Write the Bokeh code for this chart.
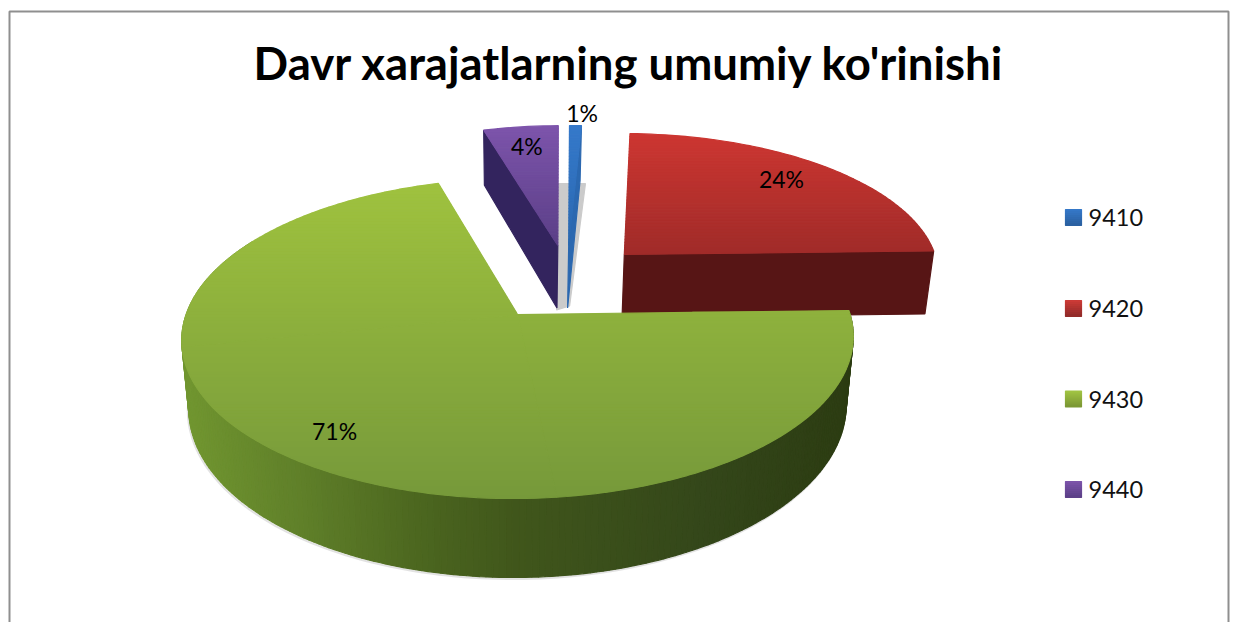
import numpy as np
from bokeh.plotting import figure
from bokeh.models import Range1d, ColumnDataSource
from bokeh.core.properties import value
from bokeh.embed import file_html
from bokeh.resources import INLINE

# ---- data
categories = ["9410", "9420", "9430", "9440"]
shares = [0.7, 24.1, 70.8, 4.4]
title = "Davr xarajatlarning umumiy ko'rinishi"

# ---- style
FONT = "Lato"
W, H = 1237, 622
CX, CY = 517.0, 314.0      # pivot on the page
CY2 = 381.0                # pivot of the lower face
A, B, P = 332.0, 156.5, 0.1495
A2, B2 = 325.0, 166.7
TILT = -0.006
offsets = [(0.165, 0.47), (0.341, 0.402), (0.0, 0.0), (0.13, 0.47)]
radii = [1.0, 0.99, 1.0, 1.0]
stretch = [1.0, 1.0, 1.0, 1.0]
lean = [0.026, 0.025, 0.0, 0.02]
label_r = [1.12, 0.83, 0.83, 0.82]
label_du = [0.022, -0.04, 0.0, 0.0]
top_cols = [("#3579ca", "#2a68b0"), ("#cd3631", "#a02b29"), ("#9fc23f", "#76993a"), ("#7d54ab", "#5b3f87")]
key_cols = [("#3579ca", "#2a5f9f"), ("#cf3b37", "#8f2a28"), ("#a3c644", "#7a9633"), ("#7d54ab", "#5b3f87")]
side_cols = ["#2b68b0", "#571515", None, "#33245e"]
wall_stops = [(181, "#719630"), (300, "#5f7f29"), (420, "#4b661f"), (517, "#40561b"), (700, "#34471a"), (853, "#2c3c12")]


def hex2rgb(c):
    return np.array([int(c[i:i + 2], 16) for i in (1, 3, 5)], float)


def mix(c0, c1, t):
    t = min(max(t, 0.0), 1.0)
    rgb = hex2rgb(c0) * (1 - t) + hex2rgb(c1) * t
    return "#%02x%02x%02x" % tuple(int(round(v)) for v in rgb)


def top(u, v):
    u, v = np.asarray(u, float), np.asarray(v, float)
    w = 1 + P * v
    return CX + A * u / w, CY - B * v / w + TILT * (A * u / w)


def low(u, v):
    u, v = np.asarray(u, float), np.asarray(v, float)
    w = 1 + P * v
    return CX + A2 * u / w, CY2 - B2 * v / w + TILT * (A2 * u / w)


def clip_band(pts, y0, y1):
    def clip(poly, keep, cross):
        out = []
        for i in range(len(poly)):
            a, b = poly[i], poly[(i + 1) % len(poly)]
            if keep(a):
                out.append(a)
            if keep(a) != keep(b):
                t = (cross - a[1]) / (b[1] - a[1])
                out.append((a[0] + t * (b[0] - a[0]), cross))
        return out
    poly = clip(pts, lambda q: q[1] >= y0, y0)
    if poly:
        poly = clip(poly, lambda q: q[1] <= y1, y1)
    return poly


xs_all, ys_all, cs_all = [], [], []


def flush(p):
    global xs_all, ys_all, cs_all
    if xs_all:
        src = ColumnDataSource(dict(xs=xs_all, ys=ys_all, c=cs_all))
        p.patches("xs", "ys", source=src, fill_color="c", line_color="c", line_width=1.2)
    xs_all, ys_all, cs_all = [], [], []


def add(xs, ys, c):
    xs_all.append([float(x) for x in xs])
    ys_all.append([float(y) for y in ys])
    cs_all.append(c)


def gradient_poly(xs, ys, c0, c1, step=3.0, yr=None):
    pts = list(zip(xs, ys))
    y0, y1 = yr if yr else (min(ys), max(ys))
    n = max(int((y1 - y0) / step), 1)
    for i in range(n):
        a = y0 + (y1 - y0) * i / n
        b = y0 + (y1 - y0) * (i + 1) / n
        poly = clip_band(pts, a, b)
        if len(poly) >= 3:
            add([q[0] for q in poly], [q[1] for q in poly], mix(c0, c1, (i + .5) / n))


def wall_color(x):
    for (x0, c0), (x1, c1) in zip(wall_stops[:-1], wall_stops[1:]):
        if x <= x1:
            return mix(c0, c1, (x - x0) / (x1 - x0))
    return wall_stops[-1][1]


p = figure(width=W, height=H, x_range=Range1d(0, W), y_range=Range1d(H, 0),
           output_backend="svg", toolbar_location=None, min_border=0)
p.axis.visible = False
p.grid.visible = False
p.outline_line_color = None
p.background_fill_color = "white"

# chart frame
p.line([9, 9, 1228, 1228], [H, 11, 11, H], line_color="#8f8f8f", line_width=2)

# angles from the values
fracs = np.array(shares) / sum(shares)
ends = np.cumsum(fracs) * 2 * np.pi
starts = ends - fracs * 2 * np.pi
mids = (starts + ends) / 2


def local(i, th, r=None):
    r = radii[i] if r is None else r
    ou, ov = offsets[i]
    return (ou + r * np.sin(th) + lean[i] * r * np.cos(th),
            ov + stretch[i] * r * np.cos(th))


def arc(i, a=None, b=None, n=None):
    a = starts[i] if a is None else a
    b = ends[i] if b is None else b
    n = n or max(int((b - a) * 40), 6)
    return local(i, np.linspace(a, b, n))


def draw_surface(i, parts=1):
    ou, ov = offsets[i]
    edges = np.linspace(starts[i], ends[i], parts + 1)
    polys = []
    for a, b in zip(edges[:-1], edges[1:]):
        u, v = arc(i, a, b)
        polys.append(top(np.r_[ou, u], np.r_[ov, v]))
    y0 = min(q[1].min() for q in polys)
    y1 = max(q[1].max() for q in polys)
    for x, y in polys:
        gradient_poly(list(x), list(y), *top_cols[i], yr=(y0, y1))


def radial_wall(i, th, col):
    ou, ov = offsets[i]
    eu, ev = local(i, th)
    ax, ay = top(ou, ov)
    bx, by = top(eu, ev)
    cx, cy = low(eu, ev)
    dx, dy = low(ou, ov)
    add([ax, bx, cx, dx], [ay, by, cy, dy], col)


# grey cast behind the thin slice, anchored on its own corners
ou, ov = offsets[0]
ax, ay = low(ou, ov)
ex, ey = top(*local(0, ends[0]))
gx = [float(ax) - 11, float(ex) + 4, float(ax) + 2, float(ax) - 11]
gy = [float(ey) + 58, float(ey) + 58, float(ay) - 2, float(ay) + 2]
add(gx, gy, "#cbcbcb")

# thin slice
radial_wall(0, ends[0], side_cols[0])
draw_surface(0)
# narrow slice on the left
radial_wall(3, starts[3], side_cols[3])
draw_surface(3)
# red slice
radial_wall(1, ends[1], side_cols[1])
draw_surface(1)
flush(p)

# soft edge under the big slice
u, v = arc(2, n=200)
mask = (v < 0.35)
lx, ly = low(u[mask], v[mask])
p.line(lx - 1, ly + 1.5, line_color="#8a8a8a", line_width=2, line_alpha=0.25)

# rim of the big slice
u, v = arc(2, n=260)
tx, ty = top(u, v)
bx, by = low(u, v)
for k in range(len(u) - 1):
    if v[k] < 0.5:
        add([tx[k], tx[k + 1], bx[k + 1], bx[k]], [ty[k], ty[k + 1], by[k + 1], by[k]],
            wall_color((tx[k] + tx[k + 1]) / 2))
draw_surface(2, parts=3)
flush(p)

# slice labels
lab_x, lab_y, lab_t = [], [], []
for i in range(4):
    lu, lv = local(i, mids[i], label_r[i])
    lx, ly = top(lu + label_du[i], lv)
    lab_x.append(float(lx))
    lab_y.append(float(ly))
    lab_t.append("%d%%" % round(shares[i]))
p.text(lab_x, lab_y, text=lab_t, text_font=value(FONT), text_font_size="23px",
       text_color="#000000", text_align="center", text_baseline="middle")

# legend
leg_y = [217, 308, 398.5, 489]
for i, ly in enumerate(leg_y):
    gradient_poly([1065, 1081, 1081, 1065], [ly - 8, ly - 8, ly + 8, ly + 8], *key_cols[i], step=2.0)
flush(p)
p.text([1088] * 4, leg_y, text=categories, text_font=value(FONT), text_font_size="23.5px",
       text_color="#111111", text_align="left", text_baseline="middle")

# title
p.text([628.5], [62], text=[title], text_font=value(FONT), text_font_size="45.5px",
       text_font_style="bold", text_color="#000000", text_align="center", text_baseline="middle")

open("out.html", "w").write(file_html(p, INLINE))
